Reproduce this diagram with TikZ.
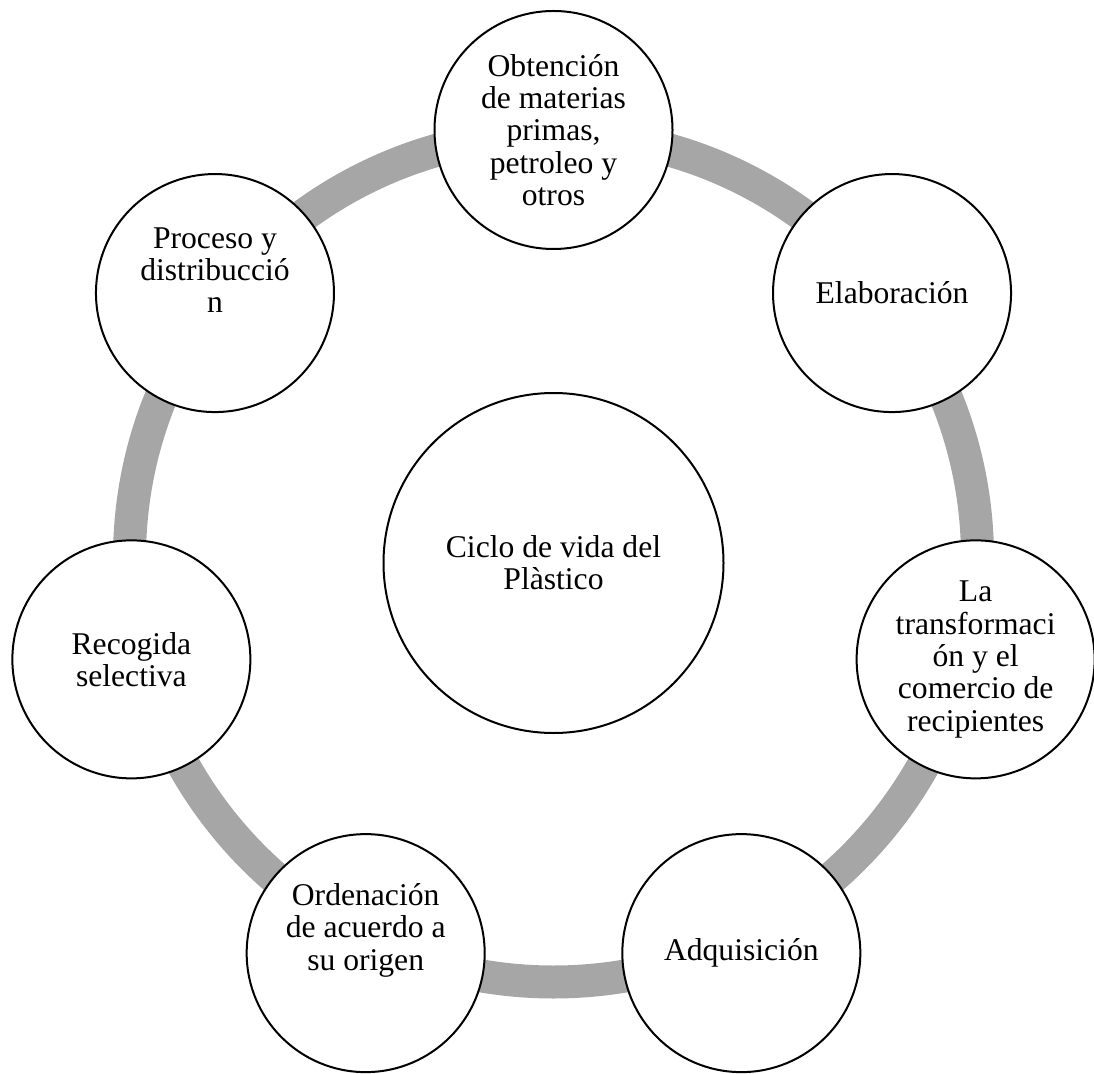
\documentclass[tikz,border=0pt]{standalone}
\usepackage{fontspec}
\setmainfont{Liberation Serif}
\usetikzlibrary{positioning}
\definecolor{ringgray}{RGB}{166,166,166}
\tikzset{
	stage/.style={draw, circle, fill=white, line width=0.2mm, minimum size=23.8mm, inner sep=0pt, align=center, font=\fontsize{9}{9.2}\selectfont},
	stagetext/.style={align=center, inner sep=0pt, font=\fontsize{9}{9.2}\selectfont}
}

\begin{document}
\begin{tikzpicture}
		[x = 0.1mm, y = 0.1mm]
		\useasboundingbox (-553.5,-510) rectangle (540.5,563);
		\coordinate (m) at (0,0);
		\coordinate (r) at (0,5);
		\coordinate (a) at (90:433);
		\coordinate (b) at (38.57:433);
		\coordinate (c) at (-12.86:433);
		\coordinate (d) at (-64.29:433);
		\coordinate (e) at (-115.71:433);
		\coordinate (f) at (-167.14:433);
		\coordinate (g) at (141.43:433);

		% gray ring behind the stages
		\draw[ringgray, line width=3.3mm] (r) circle[radius=42.4mm];

		\path
		(m) node[stage, minimum size=34mm](ciclo) {Ciclo de vida del\\Plàstico}
		(a) node[stage](obt) {Obtención\\de materias\\primas,\\petroleo y\\otros}
		(b) node[stage](elab) {Elaboración}
		(c) node[stage](trans) {La\\transformaci\\ón y el\\comercio de\\recipientes}
		(d) node[stage](adq) {Adquisición}
		(e) node[stage](orden) {}
		(f) node[stage](recog) {Recogida\\selectiva}
		(g) node[stage](proc) {};

		\node[stagetext, yshift=2.3mm] (ordentext) at (orden) {Ordenación\\de acuerdo a\\su origen};
		\node[stagetext, yshift=2.3mm] (proctext) at (proc) {Proceso y\\distribucció\\n};
	\end{tikzpicture}
\end{document}
